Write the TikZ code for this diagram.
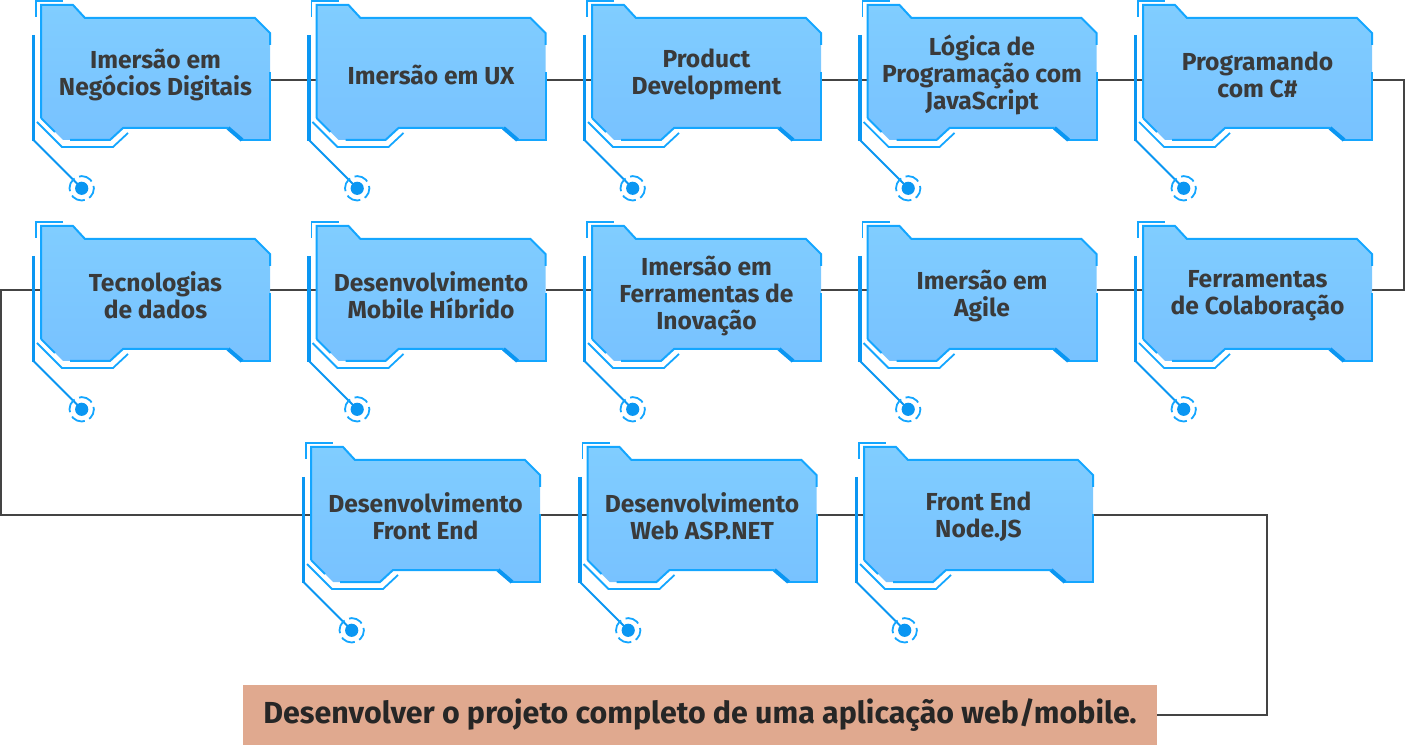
\documentclass[tikz,border=0pt]{standalone}
\usepackage{fontspec}
\setmainfont{Fira Sans}
\usepackage{tikz}
\usetikzlibrary{backgrounds}

\definecolor{cardblue}{HTML}{80CDFF}
\definecolor{cardblue2}{HTML}{78C2FF}
\definecolor{edgeblue}{HTML}{14A6FF}
\definecolor{deepblue}{HTML}{0A96F2}
\definecolor{inkgrey}{HTML}{3A3A3A}
\definecolor{wiregrey}{HTML}{444444}
\definecolor{goalsand}{HTML}{E0A98F}

\tikzset{
  cardbody/.style={top color=cardblue,bottom color=cardblue2,draw=none},
  cardedge/.style={draw=edgeblue,line width=1pt,line join=miter},
  cardtab/.style={draw=deepblue,line width=2pt},
  cardbar/.style={draw=deepblue,line width=1.6pt},
  cardstem/.style={draw=deepblue,line width=1pt},
  cardtrim/.style={draw=edgeblue,line width=0.9pt},
  cardring/.style={draw=edgeblue,line width=0.9pt,dash pattern=on 7.2pt off 2.45pt,dash phase=6pt},
  cardtext/.style={inner sep=0pt,minimum width=114.5pt,minimum height=67.5pt,align=center,
    text=inkgrey,font=\fontsize{12.3}{13.5}\selectfont\bfseries},
  wire/.style={draw=wiregrey,line width=1pt},
  goalbox/.style={fill=goalsand,inner sep=0pt,minimum width=457pt,minimum height=30pt,
    text=black!85,font=\fontsize{15.2}{17}\selectfont\bfseries}
}

% one card: name, left, top, text
\newcommand{\card}[4]{%
  \begin{scope}[shift={(#2,#3)}]
    \path[cardbody] (0,0) -- (32,0) -- (44,13) -- (214,13) -- (229,28) -- (229,135)
      -- (200,135) -- (186,123) -- (82,123) -- (69,135) -- (22,135) -- (0,113) -- cycle;
    \draw[cardedge] (0,113) -- (0,0) -- (32,0) -- (44,13) -- (214,13) -- (229,28) -- (229,40);
    \draw[cardedge] (229,67) -- (229,135) -- (200,135);
    \draw[cardtab] (201,135) -- (187,123);
    \draw[cardedge] (187,123) -- (82,123) -- (69,135) -- (29,135);
    \draw[cardedge] (0,113) -- (14,127);
    % frame lines
    \draw[cardtrim] (-5,12) -- (-5,-4) -- (22,-4);
    \draw[cardbar] (-7.5,30) -- (-7.5,136);
    \draw[cardtrim] (-4,117) -- (21,142) -- (72,142) -- (87,128);
    \coordinate (#1dot) at (40.7,183.3);
    \draw[cardstem] (-7.5,135) -- (#1dot);
    \fill[deepblue] (#1dot) circle (3.3pt);
    \draw[cardring] (#1dot) circle (6.1pt);
    \node[cardtext] (#1) at (114.5,69.5) {#4};
  \end{scope}}

\begin{document}
\begin{tikzpicture}[x=0.5pt,y=-0.5pt]
  \useasboundingbox (0,0) rectangle (1406,747);

  % first row
  \card{c1}{41}{5}{Imersão em\\Negócios Digitais}
  \card{c2}{316.5}{5}{Imersão em UX}
  \card{c3}{592}{5}{Product\\Development}
  \card{c4}{867.5}{5}{Lógica de\\Programação com\\JavaScript}
  \card{c5}{1143}{5}{Programando\\com C\#}
  % second row
  \card{c6}{41}{226}{Tecnologias\\de dados}
  \card{c7}{316.5}{226}{Desenvolvimento\\Mobile Híbrido}
  \card{c8}{592}{226}{Imersão em\\Ferramentas de\\Inovação}
  \card{c9}{867.5}{226}{Imersão em\\Agile}
  \card{c10}{1143}{226}{Ferramentas\\de Colaboração}
  % third row
  \card{c11}{311}{447}{Desenvolvimento\\Front End}
  \card{c12}{587.5}{447}{Desenvolvimento\\Web ASP.NET}
  \card{c13}{864}{447}{Front End\\Node.JS}

  \node[goalbox] (goal) at (700,715) {Desenvolver o projeto completo de uma aplicação web/mobile.};

  \coordinate (r1) at (0,80);
  \coordinate (r2) at (0,290);
  \coordinate (r3) at (0,515);

  \begin{scope}[on background layer]
    \draw[wire] (c1.east |- r1) -- (c2.west |- r1);
    \draw[wire] (c2.east |- r1) -- (c3.west |- r1);
    \draw[wire] (c3.east |- r1) -- (c4.west |- r1);
    \draw[wire] (c4.east |- r1) -- (c5.west |- r1);
    \draw[wire] (c5.east |- r1) -- ++(32,0) |- (c10.east |- r2);
    \draw[wire] (c10.west |- r2) -- (c9.east |- r2);
    \draw[wire] (c9.west |- r2) -- (c8.east |- r2);
    \draw[wire] (c8.west |- r2) -- (c7.east |- r2);
    \draw[wire] (c7.west |- r2) -- (c6.east |- r2);
    \draw[wire] (c6.west |- r2) -- ++(-40,0) |- (c11.west |- r3);
    \draw[wire] (c11.east |- r3) -- (c12.west |- r3);
    \draw[wire] (c12.east |- r3) -- (c13.west |- r3);
    \draw[wire] (c13.east |- r3) -- ++(174,0) |- (goal.east);
  \end{scope}
\end{tikzpicture}
\end{document}
